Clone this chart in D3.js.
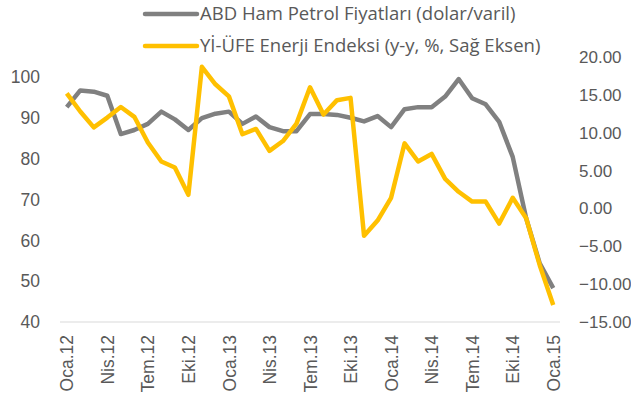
<!DOCTYPE html>
<html>
<head>
<meta charset="utf-8">
<script src="https://cdn.jsdelivr.net/npm/d3@7"></script>
<style>
  body { margin: 0; background: #fff; }
  svg { display: block; font-family: "Open Sans", "Noto Sans", sans-serif; }
</style>
</head>
<body>
<div id="chart"></div>
<script>
// Months Oca.12 .. Oca.15 (37 points), labels every third month
const monthNames = ['Oca', 'Şub', 'Mar', 'Nis', 'May', 'Haz', 'Tem', 'Ağu', 'Eyl', 'Eki', 'Kas', 'Ara'];
const categories = d3.range(37).map(i => monthNames[i % 12] + '.' + (12 + Math.floor(i / 12)));

// ABD ham petrol fiyatlari (dolar/varil), left axis
const oilPrices = [
    92.7, 96.8, 96.5, 95.5, 86.1, 87.1, 88.6, 91.6, 89.7, 87.1,
    90.0, 91.1, 91.6, 88.6, 90.4, 87.8, 86.8, 86.8, 91.0, 91.0,
    90.8, 90.1, 89.2, 90.5, 87.8, 92.2, 92.7, 92.7, 95.3, 99.6,
    94.9, 93.4, 89.1, 80.5, 65.4, 54.4, 48.3
];

// Yi-UFE enerji endeksi (y-y, %), right axis
const energyIndex = [
    15.2, 12.8, 10.7, 12.0, 13.4, 12.1, 8.7, 6.2, 5.4, 1.8,
    18.7, 16.4, 14.8, 9.8, 10.5, 7.6, 8.9, 11.2, 16.0, 12.4,
    14.3, 14.6, -3.6, -1.6, 1.4, 8.6, 6.2, 7.2, 3.9, 2.2,
    0.9, 0.9, -2.0, 1.4, -1.3, -7.5, -12.75
];

const leftTicks = [40, 50, 60, 70, 80, 90, 100];
const rightTicks = [-15, -10, -5, 0, 5, 10, 15, 20];

const seriesNames = [
    'ABD Ham Petrol Fiyatları (dolar/varil)',
    'Yİ-ÜFE Enerji Endeksi (y-y, %, Sağ Eksen)'
];
const colors = ['#808080', '#FFC000'];

const width = 631, height = 407;
const margin = { top: 57, right: 71, bottom: 85, left: 60 };
const plotW = width - margin.left - margin.right;
const plotH = height - margin.top - margin.bottom;

const svg = d3.select('#chart').append('svg')
    .attr('width', width)
    .attr('height', height);

const g = svg.append('g')
    .attr('transform', `translate(${margin.left},${margin.top})`);

// Scales
const x = d3.scalePoint()
    .domain(categories)
    .range([0, plotW])
    .padding(0.5);

const yLeft = d3.scaleLinear().domain([40, 105]).range([plotH, 0]);
const yRight = d3.scaleLinear().domain([-15, 20]).range([plotH, 0]);

// Bottom axis line
g.append('line')
    .attr('x1', 0).attr('x2', plotW)
    .attr('y1', plotH).attr('y2', plotH)
    .attr('stroke', '#d9d9d9')
    .attr('stroke-width', 1);

// Left axis
const leftAxis = g.append('g')
    .call(d3.axisLeft(yLeft).tickValues(leftTicks).tickSize(0).tickPadding(20));
leftAxis.select('.domain').remove();
leftAxis.selectAll('text')
    .attr('fill', '#595959')
    .attr('font-size', '17.5px');

// Right axis
const rightAxis = g.append('g')
    .attr('transform', `translate(${plotW},0)`)
    .call(d3.axisRight(yRight).tickValues(rightTicks).tickSize(0).tickPadding(19)
        .tickFormat(d3.format('.2f')));
rightAxis.select('.domain').remove();
rightAxis.selectAll('text')
    .attr('fill', '#595959')
    .attr('font-size', '17px');

// Category axis, rotated labels every 3 months
const xAxis = g.append('g')
    .attr('transform', `translate(0,${plotH})`)
    .call(d3.axisBottom(x)
        .tickValues(categories.filter((d, i) => i % 3 === 0))
        .tickSize(0));
xAxis.select('.domain').remove();
xAxis.selectAll('text')
    .attr('fill', '#595959')
    .attr('font-size', '17.5px')
    .attr('text-anchor', 'end')
    .attr('transform', 'rotate(-90)')
    .attr('x', -13)
    .attr('y', 0)
    .attr('dy', '0.35em');

// Lines
const lineLeft = d3.line()
    .x((d, i) => x(categories[i]))
    .y(d => yLeft(d));

const lineRight = d3.line()
    .x((d, i) => x(categories[i]))
    .y(d => yRight(d));

g.append('path')
    .datum(oilPrices)
    .attr('fill', 'none')
    .attr('stroke', colors[0])
    .attr('stroke-width', 4.5)
    .attr('stroke-linejoin', 'round')
    .attr('d', lineLeft);

g.append('path')
    .datum(energyIndex)
    .attr('fill', 'none')
    .attr('stroke', colors[1])
    .attr('stroke-width', 4.5)
    .attr('stroke-linejoin', 'round')
    .attr('d', lineRight);

// Legend
const legend = svg.append('g').attr('transform', 'translate(145,14)');
seriesNames.forEach((name, i) => {
    const row = legend.append('g').attr('transform', `translate(0,${i * 32})`);
    row.append('line')
        .attr('x1', 0).attr('x2', 52)
        .attr('stroke', colors[i])
        .attr('stroke-width', 4.5)
        .attr('stroke-linecap', 'round');
    row.append('text')
        .attr('x', 55)
        .attr('dy', '0.35em')
        .attr('fill', '#595959')
        .attr('font-size', '18.5px')
        .text(name);
});
</script>
</body>
</html>
